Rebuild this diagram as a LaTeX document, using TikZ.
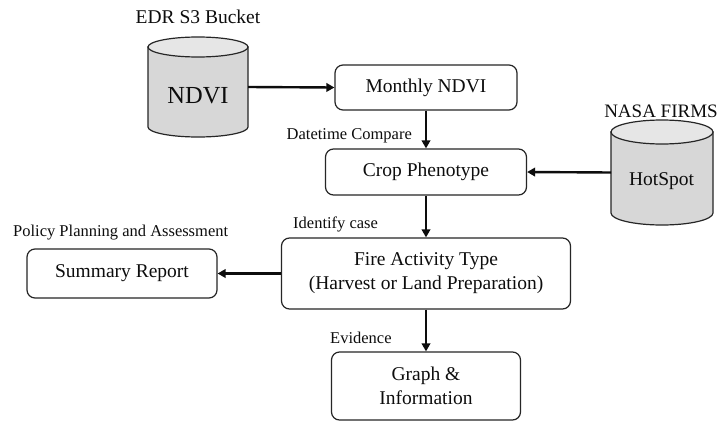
\documentclass[tikz,border=0pt]{standalone}
\usepackage{fontspec}
\setmainfont{Liberation Serif}
\usetikzlibrary{arrows.meta}
\newcommand\boxfnt{\fontsize{19.5}{24}\selectfont}
\newcommand\labfnt{\fontsize{16.5}{20}\selectfont}
\newcommand\bigfnt{\fontsize{24.5}{29}\selectfont}
\definecolor{ink}{HTML}{0D0D0D}
\definecolor{edge}{HTML}{262626}
\definecolor{dbbody}{HTML}{D7D7D7}
\definecolor{dbtop}{HTML}{E6E6E6}
\tikzset{
  procbox/.style={draw=edge, line width=1.2pt, rounded corners=8pt, align=center,
    font=\boxfnt, text=ink, inner sep=0pt},
  dbarea/.style={inner sep=0pt, outer sep=0pt},
  dbline/.style={draw=edge, line width=1.2pt},
  lab/.style={font=\labfnt, text=ink, inner sep=0pt},
  arr/.style={draw=ink, line width=2.4pt, -{Triangle[length=8pt,width=8.5pt]}},
}
\begin{document}
\begin{tikzpicture}[x=1pt,y=-1pt]
\useasboundingbox (0,0) rectangle (719,423);
\fill[white] (0,0) rectangle (719,423);

% NDVI cylinder (EDR S3 Bucket)
\node[dbarea, minimum width=100pt, minimum height=100pt] (ndvi) at (198,87) {};
\filldraw[dbline, fill=dbbody] (148,47) -- (148,127)
  arc[start angle=180, end angle=360, x radius=50pt, y radius=10pt] -- (248,47) -- cycle;
\filldraw[dbline, fill=dbtop] (198,47) ellipse[x radius=50pt, y radius=10pt];
\node[anchor=base, font=\bigfnt, text=ink, inner sep=0pt] (ndvitxt) at (198,103) {NDVI};
\node[anchor=base, font=\fontsize{19.5}{24}\selectfont, text=ink, inner sep=0pt] (edr) at (198,23) {EDR S3 Bucket};

% HotSpot cylinder (NASA FIRMS)
\node[dbarea, minimum width=102pt, minimum height=105pt] (hot) at (662,172.5) {};
\filldraw[dbline, fill=dbbody] (611,132) -- (611,213)
  arc[start angle=180, end angle=360, x radius=51pt, y radius=12pt] -- (713,132) -- cycle;
\filldraw[dbline, fill=dbtop] (662,132) ellipse[x radius=51pt, y radius=12pt];
\node[anchor=base, font=\boxfnt, text=ink, inner sep=0pt] (hottxt) at (661.5,185) {HotSpot};
\node[anchor=base, font=\fontsize{19}{23}\selectfont, text=ink, inner sep=0pt] (firms) at (661,117) {NASA FIRMS};

% process boxes
\node[procbox, minimum width=182pt, minimum height=45pt] (monthly) at (426,87.5) {Monthly NDVI};
\node[procbox, minimum width=201pt, minimum height=46pt] (crop) at (426,172) {Crop Phenotype};
\node[procbox, minimum width=289pt, minimum height=71pt] (fire) at (426,273.5)
  {Fire Activity Type\\(Harvest or Land Preparation)};
\node[procbox, minimum width=190pt, minimum height=49pt] (summary) at (122,273.5) {Summary Report};
\node[procbox, minimum width=189pt, minimum height=68pt] (graph) at (426,386) {Graph \&\\Information};

% labels
\node[lab, anchor=base east] (dtc) at (412,139) {Datetime Compare};
\node[lab, anchor=base west] (idc) at (293,228) {Identify case};
\node[lab, anchor=base west] (evi) at (330,343) {Evidence};
\node[lab, anchor=base west] (ppa) at (13,236) {Policy Planning and Assessment};

% connectors
\draw[arr] (ndvi.east) -- (monthly.west);
\draw[arr] (monthly.south) -- (crop.north);
\draw[arr] (hot.west) -- (crop.east);
\draw[arr] (crop.south) -- (fire.north);
\draw[arr] (fire.west) -- (summary.east);
\draw[arr] (fire.south) -- (graph.north);
\end{tikzpicture}
\end{document}
